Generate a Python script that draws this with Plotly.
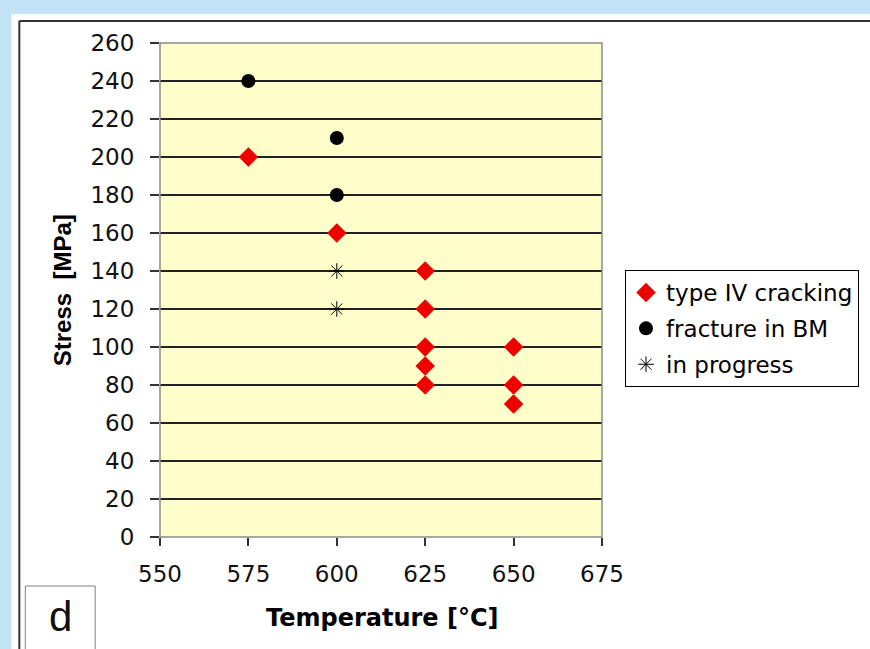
import plotly.graph_objects as go

# Data
crack_temp = [575, 600, 625, 625, 625, 625, 625, 650, 650, 650]
crack_stress = [200, 160, 140, 120, 100, 90, 80, 100, 80, 70]
bm_temp = [575, 600, 600]
bm_stress = [240, 210, 180]
prog_temp = [600, 600]
prog_stress = [140, 120]

x_ticks = [550, 575, 600, 625, 650, 675]
y_ticks = list(range(0, 261, 20))

W, H = 870, 649
L, R, T, B = 160, 267, 43, 112
PW, PH = W - L - R, H - T - B

def px(x):
    return (x - L) / PW

def py(y):
    return (H - B - y) / PH

ARIAL = "Liberation Sans, Arial, sans-serif"
WIDE = "DejaVu Sans, sans-serif"
BLUE = "#c3e4f7"

fig = go.Figure()
fig.add_trace(go.Scatter(x=crack_temp, y=crack_stress, mode="markers", name="type IV cracking",
                         legendgroup="a",
                         marker=dict(symbol="diamond", size=15, color="#ee0000")))
fig.add_trace(go.Scatter(x=bm_temp, y=bm_stress, mode="markers", name="fracture in BM",
                         legendgroup="b",
                         marker=dict(symbol="circle", size=14, color="#000000")))
fig.add_trace(go.Scatter(x=prog_temp, y=prog_stress, mode="markers", name="in progress",
                         legendgroup="c",
                         marker=dict(symbol="asterisk-open", size=13, color="#000000",
                                     line=dict(color="#333333", width=1))))

shapes = [
    # blue strips (top and left)
    dict(type="rect", xref="paper", yref="paper", x0=px(-2), x1=px(872), y0=py(-2), y1=py(14),
         fillcolor=BLUE, line=dict(width=0), layer="below"),
    dict(type="rect", xref="paper", yref="paper", x0=px(-2), x1=px(11), y0=py(-2), y1=py(652),
         fillcolor=BLUE, line=dict(width=0), layer="below"),
    # frame lines
    dict(type="line", xref="paper", yref="paper", x0=px(19), x1=px(872), y0=py(21), y1=py(21),
         line=dict(color="#333333", width=2)),
    dict(type="line", xref="paper", yref="paper", x0=px(19), x1=px(19), y0=py(21), y1=py(652),
         line=dict(color="#333333", width=2)),
    # d box
    dict(type="rect", xref="paper", yref="paper", x0=px(25), x1=px(95), y0=py(586), y1=py(655),
         fillcolor="white", line=dict(color="#808080", width=1)),
    # plot area border
    dict(type="rect", xref="paper", yref="paper", x0=0, x1=1, y0=0, y1=1,
         line=dict(color="#8a8a8a", width=1.5), layer="above"),
]

annotations = [
    dict(text="d", xref="paper", yref="paper", x=px(60), y=py(616), showarrow=False,
         font=dict(family=ARIAL, size=42, color="#111111"), xanchor="center", yanchor="middle"),
    dict(text="<b>Temperature [°C]</b>", xref="paper", yref="paper", x=px(383), y=py(618),
         showarrow=False, font=dict(family=WIDE, size=24, color="black"),
         xanchor="center", yanchor="middle"),
    dict(text="<b>Stress  [MPa]</b>", xref="paper", yref="paper", x=px(62), y=py(290),
         showarrow=False, textangle=-90, font=dict(family=ARIAL, size=24, color="black"),
         xanchor="center", yanchor="middle"),
]

fig.update_layout(
    width=W, height=H,
    margin=dict(l=L, r=R, t=T, b=B, pad=0),
    paper_bgcolor="white",
    plot_bgcolor="#ffffcc",
    font=dict(family=WIDE, size=23, color="black"),
    shapes=shapes,
    annotations=annotations,
    showlegend=True,
    legend=dict(x=px(625), y=py(270), xanchor="left", yanchor="top",
                bgcolor="white", bordercolor="black", borderwidth=1,
                font=dict(family=WIDE, size=23, color="black"),
                itemwidth=30, tracegroupgap=3, valign="middle"),
    xaxis=dict(range=[550, 675], tickvals=x_ticks, ticks="outside", ticklen=8,
               tickcolor="#333333", tickwidth=1.5, showgrid=False, zeroline=False,
               showline=False, ticklabelstandoff=8,
               tickfont=dict(family=WIDE, size=23, color="#111111")),
    yaxis=dict(range=[0, 260], tickvals=y_ticks, ticks="outside", ticklen=9,
               tickcolor="#333333", tickwidth=1.5, showgrid=True, gridcolor="#222222",
               gridwidth=1.5, zeroline=False, showline=False, ticklabelstandoff=11,
               tickfont=dict(family=WIDE, size=23, color="#111111")),
)

fig.write_html("out.html", config={"displayModeBar": False},
               post_script="document.body.style.margin='0';document.body.style.overflow='hidden';")
